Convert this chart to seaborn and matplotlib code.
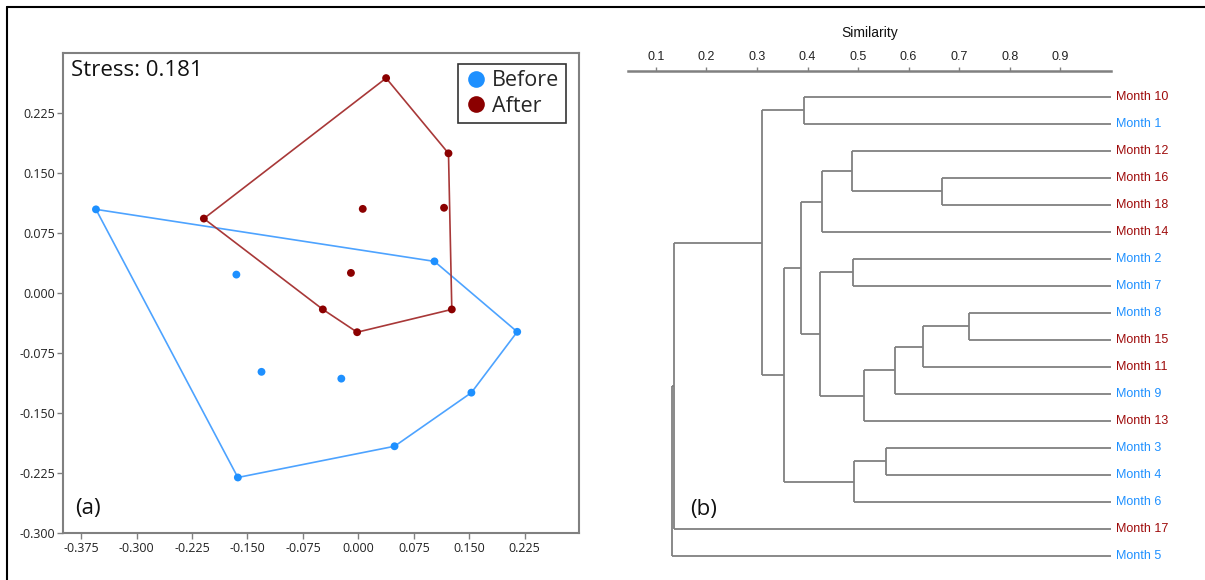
import numpy as np
import pandas as pd
import matplotlib
matplotlib.use("Agg")
import matplotlib.pyplot as plt
import seaborn as sns
from matplotlib.lines import Line2D

# ---------------- data: NMDS (panel a) ----------------
before_x = [-0.355, -0.165, 0.103, 0.215, -0.131, -0.163, -0.023, 0.153, 0.049]
before_y = [0.104, 0.0225, 0.039, -0.049, -0.099, -0.231, -0.1075, -0.125, -0.192]
after_x = [-0.209, -0.048, 0.0376, 0.122, 0.006, 0.116, -0.010, 0.1265, -0.0016]
after_y = [0.0925, -0.021, 0.268, 0.174, 0.1046, 0.106, 0.0246, -0.021, -0.0495]
groups = ["Before", "After"]
stress_text = "Stress: 0.181"
x_ticks = [-0.375, -0.300, -0.225, -0.150, -0.075, 0.000, 0.075, 0.150, 0.225]
y_ticks = [-0.300, -0.225, -0.150, -0.075, 0.000, 0.075, 0.150, 0.225]

# ---------------- data: dendrogram (panel b) ----------------
leaf_order = ["Month 10", "Month 1", "Month 12", "Month 16", "Month 18", "Month 14",
              "Month 2", "Month 7", "Month 8", "Month 15", "Month 11", "Month 9",
              "Month 13", "Month 3", "Month 4", "Month 6", "Month 17", "Month 5"]
leaf_group = ["After", "Before", "After", "After", "After", "After",
              "Before", "Before", "Before", "After", "After", "Before",
              "After", "Before", "Before", "Before", "After", "Before"]
# (new node, child a, child b, similarity)
merges = [
    ("N1", "Month 10", "Month 1", 0.394),
    ("N2", "Month 16", "Month 18", 0.666),
    ("N3", "Month 12", "N2", 0.488),
    ("N4", "N3", "Month 14", 0.429),
    ("N5", "Month 2", "Month 7", 0.489),
    ("N6", "Month 8", "Month 15", 0.719),
    ("N7", "N6", "Month 11", 0.629),
    ("N8", "N7", "Month 9", 0.573),
    ("N9", "N8", "Month 13", 0.512),
    ("N10", "N5", "N9", 0.425),
    ("N11", "N4", "N10", 0.388),
    ("N12", "Month 3", "Month 4", 0.555),
    ("N13", "N12", "Month 6", 0.491),
    ("N14", "N11", "N13", 0.353),
    ("N15", "N1", "N14", 0.311),
    ("N16", "N15", "Month 17", 0.137),
    ("N17", "N16", "Month 5", 0.132),
]
sim_ticks = [0.1, 0.2, 0.3, 0.4, 0.5, 0.6, 0.7, 0.8, 0.9]

# ---------------- style ----------------
sns.set_theme(style="white")
plt.rcParams["font.family"] = ["Open Sans", "DejaVu Sans"]

BLUE = "#1E90FF"
RED = "#8B0000"
BLUE_LINE = "#4DA3FF"
RED_LINE = "#A83838"
LBL_RED = "#9E0B0B"
GRAY = "#808080"
palette = {"Before": BLUE, "After": RED}

W, H = 1205, 580
fig = plt.figure(figsize=(W / 100, H / 100), dpi=100)

# ---------------- panel (a) ----------------
axA = fig.add_axes([62.7 / W, 1 - 532.7 / H, (579.3 - 62.7) / W, (532.7 - 53.3) / H])
df = pd.DataFrame({
    "x": before_x + after_x,
    "y": before_y + after_y,
    "group": [groups[0]] * len(before_x) + [groups[1]] * len(after_x),
})


def convex_hull(pts):
    pts = sorted(set(pts))
    if len(pts) < 3:
        return pts

    def cross(o, a, b):
        return (a[0] - o[0]) * (b[1] - o[1]) - (a[1] - o[1]) * (b[0] - o[0])

    lower, upper = [], []
    for p in pts:
        while len(lower) >= 2 and cross(lower[-2], lower[-1], p) <= 0:
            lower.pop()
        lower.append(p)
    for p in reversed(pts):
        while len(upper) >= 2 and cross(upper[-2], upper[-1], p) <= 0:
            upper.pop()
        upper.append(p)
    return lower[:-1] + upper[:-1]


for g, lc in [("Before", BLUE_LINE), ("After", RED_LINE)]:
    sub = df[df["group"] == g]
    hull = convex_hull(list(zip(sub["x"], sub["y"])))
    hull.append(hull[0])
    hx, hy = zip(*hull)
    axA.plot(hx, hy, color=lc, lw=1.2, zorder=2)

sns.scatterplot(data=df, x="x", y="y", hue="group", palette=palette, s=32,
                edgecolor="none", legend=False, ax=axA, zorder=3)

axA.set_xlim(-0.400, 0.299)
axA.set_ylim(-0.300, 0.299)
axA.set_xticks(x_ticks)
axA.set_yticks(y_ticks)
axA.set_xticklabels([f"{v:.3f}" for v in x_ticks])
axA.set_yticklabels([f"{v:.3f}" for v in y_ticks])
axA.set_xlabel("")
axA.set_ylabel("")
for s in axA.spines.values():
    s.set_color(GRAY)
    s.set_linewidth(1.5)
axA.tick_params(axis="both", which="major", length=4, width=1, color=GRAY,
                labelsize=9, labelcolor="#222222", direction="out",
                bottom=True, left=True)
axA.tick_params(axis="x", pad=2.5)
axA.tick_params(axis="y", pad=1.5)

axA.text(0.016, 0.987, stress_text, transform=axA.transAxes, fontsize=16,
         ha="left", va="top", color="#111111")
axA.text(0.025, 0.05, "(a)", transform=axA.transAxes, fontsize=16,
         ha="left", va="center", color="#111111")

handles = [Line2D([0], [0], marker="o", linestyle="none", markersize=12,
                  markerfacecolor=palette[g], markeredgecolor="none", label=g)
           for g in groups]
leg = axA.legend(handles=handles, loc="upper right", bbox_to_anchor=(0.974, 0.978),
                 frameon=True, fancybox=False, fontsize=15.5, handletextpad=0.2,
                 borderpad=0.3, labelspacing=0.2, handlelength=1.1,
                 borderaxespad=0)
leg.get_frame().set_edgecolor("black")
leg.get_frame().set_linewidth(1.2)

# ---------------- panel (b) ----------------
axB = fig.add_axes([628.3 / W, 1 - 570 / H, (1111 - 628.3) / W, (570 - 70.7) / H])
ypos = {name: float(i) for i, name in enumerate(leaf_order)}
xpos = {name: 1.0 for name in leaf_order}
for node, a, b, sim in merges:
    ya, yb = ypos[a], ypos[b]
    axB.plot([xpos[a], sim], [ya, ya], color=GRAY, lw=1.3, solid_capstyle="butt")
    axB.plot([xpos[b], sim], [yb, yb], color=GRAY, lw=1.3, solid_capstyle="butt")
    axB.plot([sim, sim], [ya, yb], color=GRAY, lw=1.3, solid_capstyle="butt")
    ypos[node] = (ya + yb) / 2
    xpos[node] = sim

for name, g in zip(leaf_order, leaf_group):
    axB.annotate(name, (1.0, ypos[name]), xytext=(3.5, 0), textcoords="offset points",
                 va="center", ha="left", fontsize=9,
                 color=BLUE if g == "Before" else LBL_RED,
                 family="Liberation Sans", annotation_clip=False)

axB.set_xlim(0.0457, 1.0)
axB.set_ylim(17.52, -0.974)
axB.set_yticks([])
axB.xaxis.tick_top()
axB.xaxis.set_label_position("top")
axB.set_xticks(sim_ticks)
axB.set_xticklabels([f"{v:.1f}" for v in sim_ticks], family="Liberation Sans")
axB.set_xlabel("Similarity", fontsize=10, family="Liberation Sans",
               labelpad=10, color="#111111")
for side in ["bottom", "left", "right"]:
    axB.spines[side].set_visible(False)
axB.spines["top"].set_color(GRAY)
axB.spines["top"].set_linewidth(1.8)
axB.tick_params(axis="x", which="major", top=True, bottom=False, length=3,
                width=1, color=GRAY, labelsize=9, labelcolor="#222222",
                direction="out", pad=2.5)

axB.text(690 / W, 1 - 510 / H, "(b)", transform=fig.transFigure, fontsize=16,
         ha="left", va="center", color="#111111")

# outer frame lines (top and left)
fig.add_artist(Line2D([7 / W, 1.0], [1 - 6.5 / H, 1 - 6.5 / H], color="black",
                      lw=1.5, transform=fig.transFigure))
fig.add_artist(Line2D([7 / W, 7 / W], [0.0, 1 - 6.5 / H], color="black",
                      lw=1.5, transform=fig.transFigure))

fig.savefig("out.png", dpi=100, facecolor="white")
